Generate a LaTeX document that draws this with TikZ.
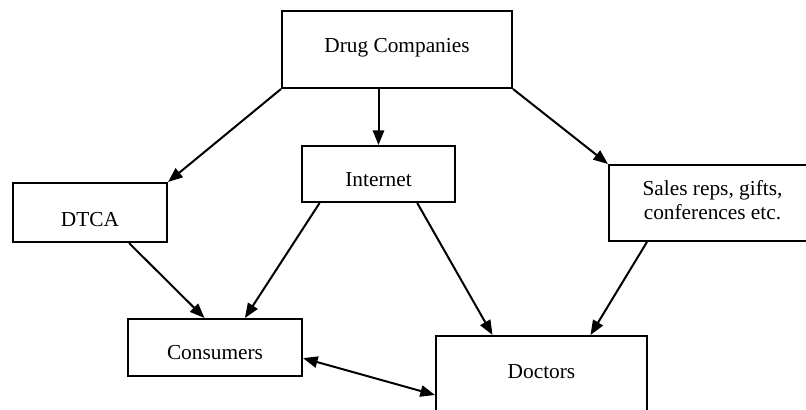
\documentclass[tikz,border=0pt]{standalone}
\usepackage{fontspec}
\setmainfont{Liberation Serif}
\usetikzlibrary{arrows.meta,calc}

\begin{document}
\begin{tikzpicture}[x=0.75pt,y=0.75pt,yscale=-1,xscale=1,
	box/.style={draw, line width=1.5pt, inner sep=0pt, rectangle},
	txt/.style={font=\fontsize{16}{18}\selectfont, align=center},
	arr/.style={line width=1.5pt, -{Triangle[length=11pt,width=8.5pt]}},
	dblarr/.style={line width=1.5pt, {Triangle[length=11pt,width=8.5pt]}-{Triangle[length=11pt,width=8.5pt]}}]
				\clip (0,0) rectangle (806,410);
				
				% Boxes
				\node [box, minimum width=230*0.75pt, minimum height=77*0.75pt, label={[txt, yshift=1.5pt]center:Drug Companies}] (dc) at (397,49.5) {};
				\node [box, minimum width=154*0.75pt, minimum height=59*0.75pt, label={[txt, yshift=-5.5pt]center:DTCA}] (dtca) at (90,212.5) {};
				\node [box, minimum width=153*0.75pt, minimum height=56*0.75pt, label={[txt, yshift=-4.5pt]center:Internet}] (internet) at (378.5,174) {};
				\node [box, minimum width=203*0.75pt, minimum height=76*0.75pt, label={[txt, xshift=1.5pt, yshift=2pt]center:Sales reps, gifts,\\conferences etc.}] (sales) at (710.5,203) {};
				\node [box, minimum width=174*0.75pt, minimum height=57*0.75pt, label={[txt, yshift=-4pt]center:Consumers}] (consumers) at (215,347.5) {};
				\node [box, minimum width=211*0.75pt, minimum height=80*0.75pt, label={[txt, yshift=3pt]center:Doctors}] (doctors) at (541.5,376) {};
				
				% Arrows from Drug Companies
				\draw [arr] (dc.south west) -- (dtca.north east);
				\draw [arr] (internet.north |- dc.south) -- (internet.north);
				\draw [arr] (dc.south east) -- (sales.north west);
				
				% Arrows to Consumers
				\draw [arr] ($(dtca.south west)!0.75!(dtca.south east)$) -- ($(consumers.north west)!0.44!(consumers.north east)$);
				\draw [arr] ($(internet.south west)!0.12!(internet.south east)$) -- ($(consumers.north west)!0.67!(consumers.north east)$);
				
				% Arrows to Doctors
				\draw [arr] ($(internet.south west)!0.75!(internet.south east)$) -- ($(doctors.north west)!0.27!(doctors.north east)$);
				\draw [arr] ($(sales.south west)!0.19!(sales.south east)$) -- ($(doctors.north west)!0.73!(doctors.north east)$);
				
				% Consumers <-> Doctors
				\draw [dblarr] ($(consumers.north east)!0.68!(consumers.south east)$) -- ($(doctors.north west)+(0,60)$);
				
\end{tikzpicture}
\end{document}
